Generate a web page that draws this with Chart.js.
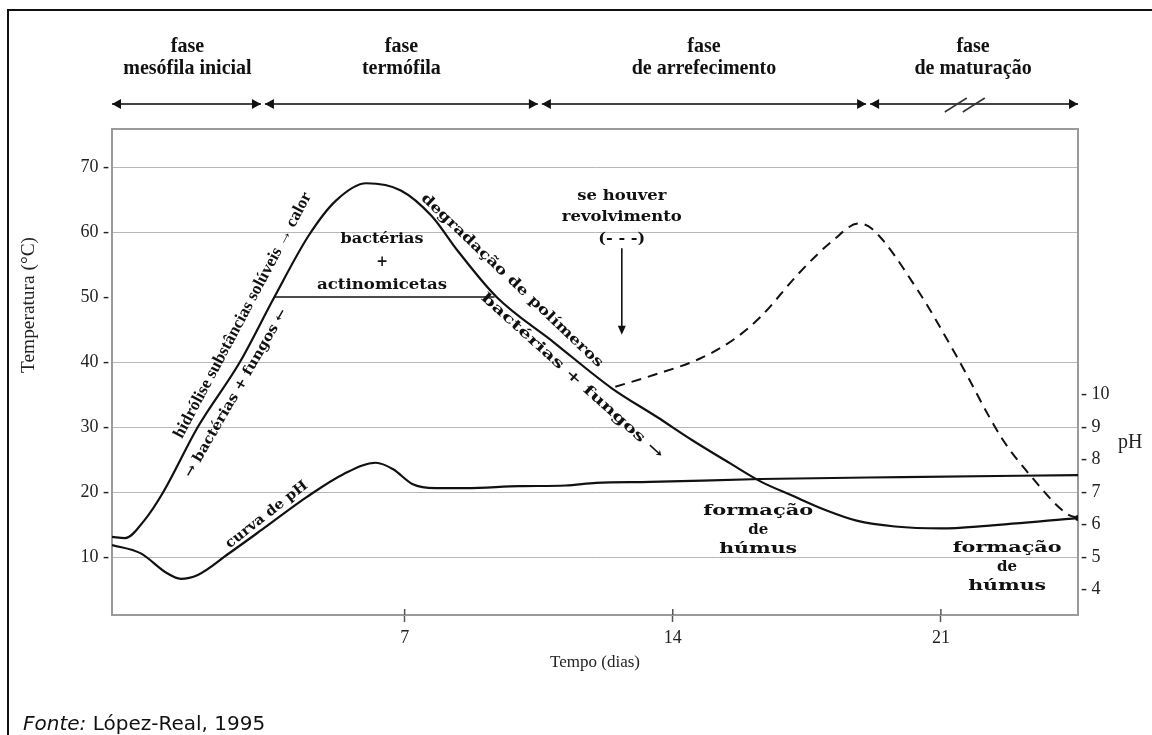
<!DOCTYPE html>
<html>
<head>
<meta charset="utf-8">
<script src="https://cdn.jsdelivr.net/npm/chart.js@4.4.0/dist/chart.umd.min.js"></script>
<style>
  html, body { margin: 0; padding: 0; background: #fff; }
  canvas { display: block; }
</style>
</head>
<body>
<canvas id="chart" width="1152" height="735"></canvas>
<script>
// curva da temperatura (dias, °C)
const tempDays   = [-0.64, -0.3, 0.2, 0.7, 1.6, 2.7, 3.6, 4.5, 5.2, 6.0, 6.9, 7.7, 8.4, 9.4, 10.9, 12.4, 13.6, 14.5, 15.5, 16.3, 17.1, 18.0, 18.8, 19.8, 21.0, 22.2, 24.58];
const tempValues = [13.1, 12.9, 15.6, 20, 30, 40, 50, 59.5, 64.8, 67.5, 66.4, 62.5, 57, 50, 43, 36, 31.5, 28, 24.4, 21.6, 19.5, 17.2, 15.6, 14.7, 14.4, 14.8, 16];

// se houver revolvimento (tracejado)
const turnDays   = [12.5, 13.5, 14.7, 15.6, 16.3, 17.3, 18.2, 18.85, 19.2, 20.4, 21.4, 22.6, 23.3, 24.3, 24.58];
const turnValues = [36.2, 38, 40.5, 43.5, 47, 53.7, 58.8, 61.3, 60.5, 51, 41, 28.2, 22.8, 16.6, 16];

// curva de pH
const phDays   = [-0.64, 0.1, 0.8, 1.15, 1.6, 2.4, 3.4, 4.45, 5.4, 6.25, 6.7, 7.2, 7.8, 8.6, 10.0, 11.2, 12.0, 13.4, 16.3, 20.0, 24.58];
const phValues = [5.37, 5.12, 4.5, 4.33, 4.45, 5.1, 5.95, 6.85, 7.55, 7.9, 7.7, 7.25, 7.12, 7.12, 7.18, 7.2, 7.28, 7.31, 7.4, 7.46, 7.52];

// linha bactérias + actinomicetas
const actinoDays   = [3.6, 9.35];
const actinoValues = [50, 50];

const dayTicks  = [7, 14, 21];
const tempTicks = [10, 20, 30, 40, 50, 60, 70];
const phTicks   = [4, 5, 6, 7, 8, 9, 10];

const phaseNames  = [['fase', 'mesófila inicial'], ['fase', 'termófila'], ['fase', 'de arrefecimento'], ['fase', 'de maturação']];
const phaseLimits = [-0.64, 3.3, 10.53, 19.1, 24.58];

const DAY_MIN = -0.64, DAY_MAX = 24.58;
const T_MIN = 1.08, T_MAX = 75.85;
// pH 5 fica no 10 °C e pH 7 no 20 °C
const toPh = t => 5 + (t - 10) / 5;

const SERIF = '"Liberation Serif", "Times New Roman", serif';
const WIDE = '"DejaVu Serif", serif';

// anotações de texto (posição em dias / °C)
const notes = [
  { lines: ['hidrólise substâncias solúveis → calor'], day: 2.78, temp: 47.2, angle: -62, width: 276, font: 'bold 17px ' + SERIF },
  { lines: ['→ bactérias + fungos ←'], day: 2.6, temp: 35.2, angle: -60, width: 192, font: 'bold 14px ' + WIDE },
  { lines: ['bactérias', '+', 'actinomicetas'], day: 6.41, temp: 55.4, angle: 0, widths: [83, 0, 130], gap: 23, font: 'bold 14px ' + WIDE },
  { lines: ['degradação de polímeros'], day: 9.8, temp: 52.5, angle: 43.5, width: 245, font: 'bold 14px ' + WIDE },
  { lines: ['bactérias + fungos →'], day: 11.37, temp: 37.8, angle: 42, width: 240, font: 'bold 14px ' + WIDE },
  { lines: ['se houver', 'revolvimento', '(- - -)'], day: 12.67, temp: 62.2, angle: 0, widths: [89, 120, 47], gap: 21.5, font: 'bold 14px ' + WIDE },
  { lines: ['curva de pH'], day: 3.4, temp: 16.5, angle: -38, width: 100, font: 'bold 14px ' + WIDE },
  { lines: ['formação', 'de', 'húmus'], day: 16.23, temp: 14.15, angle: 0, widths: [110, 0, 78], gap: 19, font: 'bold 15px ' + WIDE },
  { lines: ['formação', 'de', 'húmus'], day: 22.73, temp: 8.5, angle: 0, widths: [109, 0, 78], gap: 19, font: 'bold 15px ' + WIDE }
];

function fitText(ctx, text, cx, cy, width, font, angle) {
  ctx.save();
  ctx.font = font;
  ctx.translate(cx, cy);
  ctx.rotate((angle || 0) * Math.PI / 180);
  const w = ctx.measureText(text).width;
  if (width) ctx.scale(width / w, 1);
  ctx.textAlign = 'center';
  ctx.textBaseline = 'middle';
  ctx.fillText(text, 0, 0);
  ctx.restore();
}

function arrowHead(ctx, x, y, dir, len, half) {
  ctx.beginPath();
  ctx.moveTo(x, y);
  ctx.lineTo(x - dir * len, y - half);
  ctx.lineTo(x - dir * len, y + half);
  ctx.closePath();
  ctx.fill();
}

const decor = {
  id: 'decor',
  afterDraw(chart) {
    const { ctx, chartArea: a, scales: { x, y } } = chart;
    const px = d => x.getPixelForValue(d);
    const py = t => y.getPixelForValue(t);
    ctx.save();

    // moldura da figura
    ctx.strokeStyle = '#111';
    ctx.lineWidth = 2;
    ctx.beginPath();
    ctx.moveTo(8, 735); ctx.lineTo(8, 10); ctx.lineTo(1152, 10);
    ctx.stroke();

    // topo da área do gráfico
    ctx.strokeStyle = '#9a9a9a';
    ctx.lineWidth = 2;
    ctx.beginPath();
    ctx.moveTo(a.left, a.top); ctx.lineTo(a.right, a.top);
    ctx.stroke();

    // metade interior das marcas do eixo x
    ctx.strokeStyle = '#555';
    ctx.lineWidth = 1.5;
    dayTicks.forEach(d => {
      ctx.beginPath();
      ctx.moveTo(px(d), a.bottom); ctx.lineTo(px(d), a.bottom - 6);
      ctx.stroke();
    });

    // fases
    const ay = 104;
    ctx.fillStyle = '#111';
    ctx.strokeStyle = '#444';
    ctx.lineWidth = 2;
    for (let i = 0; i < phaseNames.length; i++) {
      const x0 = i === 0 ? a.left : px(phaseLimits[i]) + 2;
      const x1 = i === phaseNames.length - 1 ? a.right : px(phaseLimits[i + 1]) - 2;
      ctx.beginPath();
      ctx.moveTo(x0, ay); ctx.lineTo(x1, ay);
      ctx.stroke();
      arrowHead(ctx, x0, ay, -1, 9, 5);
      arrowHead(ctx, x1, ay, 1, 9, 5);
      const cx = (px(phaseLimits[i]) + px(phaseLimits[i + 1])) / 2;
      fitText(ctx, phaseNames[i][0], cx, 47, 0, 'bold 20px ' + SERIF);
      fitText(ctx, phaseNames[i][1], cx, 69, 0, 'bold 20px ' + SERIF);
    }
    // barras "//"
    ctx.lineWidth = 1.5;
    ctx.strokeStyle = '#333';
    const sx = px(21.65);
    [-10, 8].forEach(o => {
      ctx.beginPath();
      ctx.moveTo(sx + o - 11, ay + 8); ctx.lineTo(sx + o + 11, ay - 6);
      ctx.stroke();
    });

    // anotações
    ctx.fillStyle = '#111';
    notes.forEach(n => {
      const cx = px(n.day), cy = py(n.temp);
      if (n.lines.length === 1) {
        fitText(ctx, n.lines[0], cx, cy, n.width, n.font, n.angle);
      } else {
        const top = cy - n.gap * (n.lines.length - 1) / 2;
        n.lines.forEach((t, i) => fitText(ctx, t, cx, top + i * n.gap, n.widths[i], n.font, 0));
      }
    });

    // seta do revolvimento
    const vx = px(12.67), vy0 = py(57.5), vy1 = py(44.2);
    ctx.strokeStyle = '#111';
    ctx.lineWidth = 1.6;
    ctx.beginPath();
    ctx.moveTo(vx, vy0); ctx.lineTo(vx, vy1 - 6);
    ctx.stroke();
    ctx.beginPath();
    ctx.moveTo(vx, vy1); ctx.lineTo(vx - 4, vy1 - 9); ctx.lineTo(vx + 4, vy1 - 9);
    ctx.closePath(); ctx.fill();

    // títulos dos eixos
    ctx.fillStyle = '#222';
    fitText(ctx, 'Temperatura (°C)', 29, 305, 136, '18px ' + SERIF, -90);
    ctx.font = '20px ' + SERIF;
    ctx.textAlign = 'left';
    ctx.textBaseline = 'middle';
    ctx.fillText('pH', 1118, 443);

    // fonte
    ctx.fillStyle = '#111';
    ctx.textBaseline = 'alphabetic';
    ctx.font = 'italic 20px "DejaVu Sans", sans-serif';
    ctx.fillText('Fonte:', 23, 730);
    const fw = ctx.measureText('Fonte:').width;
    ctx.font = '20px "DejaVu Sans", sans-serif';
    ctx.fillText(' López-Real, 1995', 23 + fw, 730);

    ctx.restore();
  }
};

const pts = (xs, ys) => xs.map((d, i) => ({ x: d, y: ys[i] }));

new Chart(document.getElementById('chart').getContext('2d'), {
  type: 'line',
  data: {
    datasets: [
      {
        data: pts(tempDays, tempValues),
        borderColor: '#111', borderWidth: 2.2, pointRadius: 0,
        cubicInterpolationMode: 'monotone', yAxisID: 'y'
      },
      {
        data: pts(turnDays, turnValues),
        borderColor: '#111', borderWidth: 2, borderDash: [10, 7],
        pointRadius: turnDays.map((d, i) => i === turnDays.length - 1 ? 3 : 0),
        pointBackgroundColor: '#111', pointBorderWidth: 0,
        cubicInterpolationMode: 'monotone', yAxisID: 'y'
      },
      {
        data: pts(phDays, phValues),
        borderColor: '#111', borderWidth: 2.2, pointRadius: 0,
        cubicInterpolationMode: 'monotone', yAxisID: 'y2'
      },
      {
        data: pts(actinoDays, actinoValues),
        borderColor: '#111', borderWidth: 1.6, pointRadius: 0, yAxisID: 'y'
      }
    ]
  },
  options: {
    responsive: false,
    animation: false,
    layout: { padding: { top: 129, left: 0, right: 0, bottom: 0 } },
    plugins: { legend: { display: false }, tooltip: { enabled: false } },
    scales: {
      x: {
        type: 'linear', min: DAY_MIN, max: DAY_MAX,
        afterBuildTicks: s => { s.ticks = dayTicks.map(v => ({ value: v })); },
        afterFit: s => { s.height = 120; },
        grid: { drawOnChartArea: false, drawTicks: true, tickLength: 7, tickColor: '#555', tickWidth: 1.5 },
        border: { color: '#9a9a9a', width: 2 },
        ticks: { font: { family: SERIF, size: 18 }, color: '#222', padding: 5, maxRotation: 0 },
        title: { display: true, text: 'Tempo (dias)', font: { family: SERIF, size: 17 }, color: '#222', padding: { top: 0, bottom: 62 } }
      },
      y: {
        type: 'linear', position: 'left', min: T_MIN, max: T_MAX,
        afterBuildTicks: s => { s.ticks = tempTicks.map(v => ({ value: v })); },
        afterFit: s => { s.width = 112; },
        grid: { drawTicks: false, color: c => (c.tick && c.tick.value === 50) ? 'rgba(0,0,0,0)' : '#b8b8b8', lineWidth: 1 },
        border: { color: '#9a9a9a', width: 2 },
        ticks: { font: { family: SERIF, size: 18 }, color: '#222', padding: 3, callback: v => v + ' -' }
      },
      y2: {
        type: 'linear', position: 'right', min: toPh(T_MIN), max: toPh(T_MAX),
        afterBuildTicks: s => { s.ticks = phTicks.map(v => ({ value: v })); },
        afterFit: s => { s.width = 74; },
        grid: { drawOnChartArea: false, drawTicks: false },
        border: { color: '#9a9a9a', width: 2 },
        ticks: { font: { family: SERIF, size: 18 }, color: '#222', padding: 3, callback: v => '- ' + v }
      }
    }
  },
  plugins: [decor]
});
</script>
</body>
</html>
